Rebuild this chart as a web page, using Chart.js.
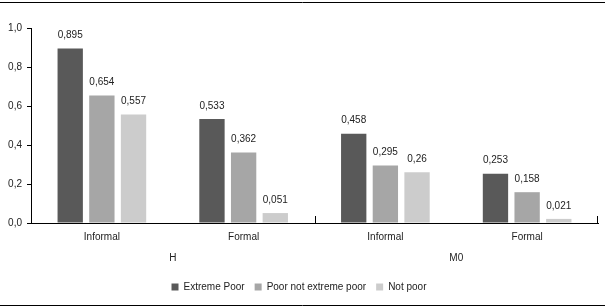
<!DOCTYPE html>
<html>
<head>
<meta charset="utf-8">
<script src="https://cdn.jsdelivr.net/npm/chart.js@4.4.1/dist/chart.umd.min.js"></script>
<style>
  html, body { margin: 0; padding: 0; background: #fff; }
  #wrap { width: 605px; height: 308px; position: relative; }
</style>
</head>
<body>
<div id="wrap"><canvas id="chart"></canvas></div>
<script>
// chart data
const categories = ['Informal', 'Formal', 'Informal', 'Formal'];
const groups = ['H', 'M0'];
const extremePoor = [0.895, 0.533, 0.458, 0.253];
const poorNotExtreme = [0.654, 0.362, 0.295, 0.158];
const notPoor = [0.557, 0.051, 0.26, 0.021];
const yTicks = [0, 0.2, 0.4, 0.6, 0.8, 1.0];

const FONT = 'Liberation Sans';
const TEXT = '#222';

// comma as decimal mark
function fmt(v, digits) {
    var s = digits == null ? String(v) : v.toFixed(digits);
    return s.replace('.', ',');
}

// value labels above each bar
const barLabels = {
    id: 'barLabels',
    afterDatasetsDraw(chart) {
        const ctx = chart.ctx;
        ctx.save();
        ctx.font = '10px ' + FONT;
        ctx.fillStyle = TEXT;
        ctx.textAlign = 'center';
        ctx.textBaseline = 'bottom';
        chart.data.datasets.forEach((ds, i) => {
            chart.getDatasetMeta(i).data.forEach((bar, j) => {
                ctx.fillText(fmt(ds.data[j]), bar.x, bar.y - 8);
            });
        });
        ctx.restore();
    }
};

// frame lines, group labels and the group separator ticks
const extras = {
    id: 'extras',
    afterDraw(chart) {
        const ctx = chart.ctx;
        const x = chart.scales.x;
        const area = chart.chartArea;
        ctx.save();
        ctx.strokeStyle = '#000';
        ctx.lineWidth = 1;
        ctx.beginPath();
        ctx.moveTo(0, 2.5); ctx.lineTo(chart.width, 2.5);
        ctx.moveTo(0, 305.5); ctx.lineTo(chart.width, 305.5);
        // separators between H and M0, and at the right end
        var mid = Math.round((x.getPixelForTick(1) + x.getPixelForTick(2)) / 2) + 0.5;
        ctx.moveTo(mid, area.bottom); ctx.lineTo(mid, area.bottom - 7);
        ctx.moveTo(area.right - 0.5, area.bottom); ctx.lineTo(area.right - 0.5, area.bottom - 7);
        ctx.stroke();

        ctx.font = '10px ' + FONT;
        ctx.fillStyle = TEXT;
        ctx.textAlign = 'center';
        ctx.textBaseline = 'middle';
        groups.forEach((g, i) => {
            var cx = (x.getPixelForTick(i * 2) + x.getPixelForTick(i * 2 + 1)) / 2;
            ctx.fillText(g, cx, 258);
        });
        ctx.restore();
    }
};

new Chart(document.getElementById('chart'), {
    type: 'bar',
    data: {
        labels: categories,
        datasets: [
            { label: 'Extreme Poor', data: extremePoor, backgroundColor: '#595959' },
            { label: 'Poor not extreme poor', data: poorNotExtreme, backgroundColor: '#a6a6a6' },
            { label: 'Not poor', data: notPoor, backgroundColor: '#cccccc' }
        ]
    },
    options: {
        responsive: true,
        maintainAspectRatio: false,
        animation: false,
        layout: { padding: { top: 28, right: 7, left: 0, bottom: 6 } },
        datasets: {
            bar: { categoryPercentage: 0.67, barPercentage: 0.8 }
        },
        plugins: {
            tooltip: { enabled: false },
            legend: {
                position: 'bottom',
                labels: {
                    boxWidth: 7,
                    boxHeight: 7,
                    padding: 10,
                    color: TEXT,
                    font: { family: FONT, size: 10 }
                }
            }
        },
        scales: {
            x: {
                grid: { display: false },
                border: { color: '#000', width: 1 },
                ticks: { color: TEXT, padding: 0, font: { family: FONT, size: 10 } },
                afterFit(scale) { scale.height = 49; }
            },
            y: {
                min: 0,
                max: 1,
                grid: { drawOnChartArea: false, drawTicks: true, tickLength: 4, color: '#000' },
                border: { color: '#000', width: 1 },
                afterBuildTicks(scale) { scale.ticks = yTicks.map(v => ({ value: v })); },
                ticks: {
                    color: TEXT,
                    padding: 5,
                    font: { family: FONT, size: 10 },
                    callback: v => fmt(v, 1)
                },
                afterFit(scale) { scale.width = 31; }
            }
        }
    },
    plugins: [barLabels, extras]
});
</script>
</body>
</html>
